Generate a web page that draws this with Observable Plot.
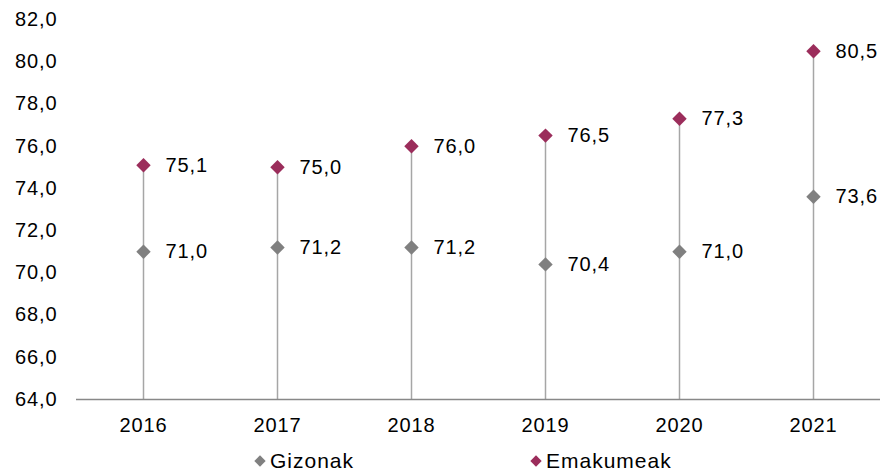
<!DOCTYPE html>
<html><head><meta charset="utf-8">
<script src="https://cdn.jsdelivr.net/npm/d3@7"></script>
<script src="https://cdn.jsdelivr.net/npm/@observablehq/plot@0.6"></script>
<style>
body{margin:0;background:#fff;font-family:"Liberation Sans",Arial,sans-serif;}
#legend{position:relative;height:32px;font-size:21px;letter-spacing:1px;color:#000;}
.item{position:absolute;top:9px;display:flex;align-items:center;}
.sw{display:inline-block;width:8px;height:8px;transform:rotate(45deg);margin-right:6px;}
svg text{letter-spacing:0.9px;}
</style></head>
<body>
<div id="chart"></div>
<div id="legend"></div>
<script>
const years = ["2016","2017","2018","2019","2020","2021"];
const gizonak = [71.0, 71.2, 71.2, 70.4, 71.0, 73.6];
const emakumeak = [75.1, 75.0, 76.0, 76.5, 77.3, 80.5];
const seriesNames = ["Gizonak","Emakumeak"];
const colors = ["#808080","#9B2D5B"];
const yTicks = [64,66,68,70,72,74,76,78,80,82];

const fmt = v => d3.format(".1f")(v).replace(".", ",");
const rows = [];
years.forEach((y,i)=>{
  rows.push({year:y, series:seriesNames[0], value:gizonak[i]});
  rows.push({year:y, series:seriesNames[1], value:emakumeak[i]});
});
const stems = years.map((y,i)=>({year:y, lo:64, hi:Math.max(gizonak[i], emakumeak[i])}));

const chart = Plot.plot({
  width: 885,
  height: 440,
  marginTop: 19,
  marginBottom: 41,
  marginLeft: 76,
  marginRight: 5,
  style: {fontFamily: '"Liberation Sans", Arial, sans-serif', fontSize: "20px", color: "#000", background: "#fff", overflow: "visible"},
  x: {type: "point", domain: years, padding: 0.5, label: null, tickSize: 0, tickPadding: 18},
  y: {domain: [64, 82], ticks: yTicks, tickFormat: fmt, label: null, tickSize: 0, tickPadding: 19},
  color: {domain: seriesNames, range: colors},
  marks: [
    Plot.ruleX(stems, {x: "year", y1: "lo", y2: "hi", stroke: "#a6a6a6", strokeWidth: 1.5}),
    Plot.ruleY([64], {stroke: "#888", strokeWidth: 1.5}),
    Plot.dot(rows, {x: "year", y: "value", fill: "series", symbol: "diamond2", r: 6.5, stroke: "none"}),
    Plot.text(rows, {x: "year", y: "value", text: d => fmt(d.value), dx: 22, textAnchor: "start", fill: "#000", fontSize: 20})
  ]
});
document.getElementById("chart").appendChild(chart);

const legend = document.getElementById("legend");
const lx = [256, 532];
seriesNames.forEach((n,i)=>{
  const it = document.createElement("div");
  it.className = "item";
  it.style.left = lx[i] + "px";
  it.innerHTML = `<span class="sw" style="background:${colors[i]}"></span><span>${n}</span>`;
  legend.appendChild(it);
});
</script>
</body></html>
